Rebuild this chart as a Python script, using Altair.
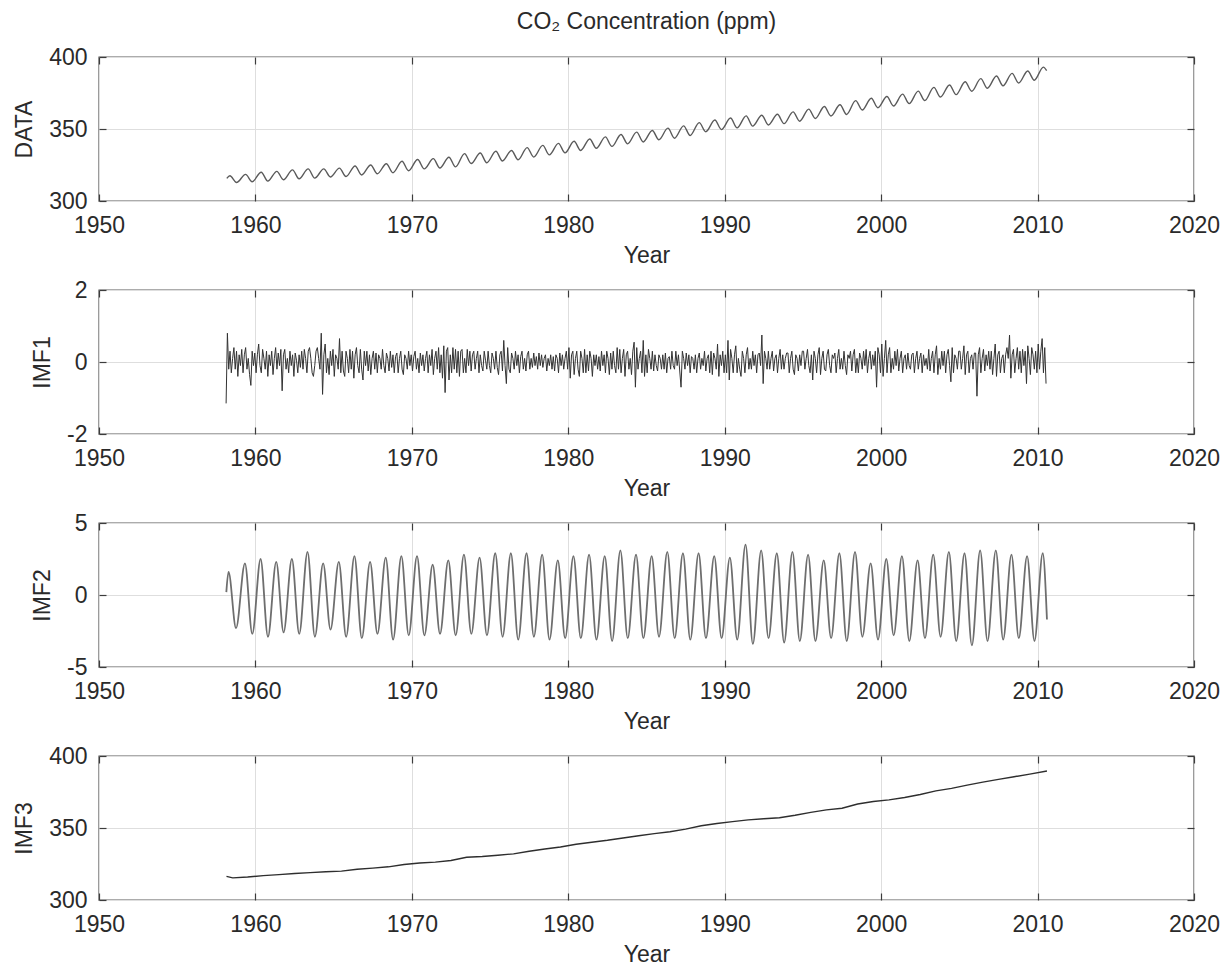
import altair as alt
import pandas as pd

FONT = "Liberation Sans"
TXT = "#2a2a2a"
GRID = "#dedede"
FRAME = "#5a5a5a"
TICKC = "#3c3c3c"

X_TICKS = [1950, 1960, 1970, 1980, 1990, 2000, 2010, 2020]

# ---------------- DATA (seasonal peaks ~May, troughs ~Oct) ----------------
data_start = [1958.17, 315.7]
data_peak_years = list(range(1958, 2011))
data_peak = [317.5, 318.5, 320.0, 320.6, 321.6, 322.3, 322.3, 322.8, 324.3, 325.0, 325.9, 327.6,
             328.8, 329.4, 330.4, 332.9, 333.3, 334.5, 335.1, 337.1, 338.6, 340.0,
             341.5, 343.1, 344.5, 346.2, 347.8, 349.0, 350.6, 352.2, 354.4, 356.2,
             357.6, 359.1, 359.6, 360.2, 361.9, 363.8, 365.6, 366.8, 369.7, 371.4,
             372.6, 374.2, 376.3, 378.9, 380.6, 382.8, 385.0, 386.8, 388.6, 390.3, 393.0]
data_trough_years = list(range(1958, 2010))
data_trough = [312.8, 313.4, 313.8, 314.8, 315.4, 315.9, 316.7, 317.0, 318.1, 318.9, 319.6, 321.0,
               322.3, 322.9, 323.7, 326.0, 326.6, 327.8, 328.6, 330.5, 332.0, 333.4,
               335.1, 336.6, 337.9, 339.7, 341.0, 342.5, 343.6, 345.5, 348.1, 349.6,
               350.8, 352.0, 352.8, 353.7, 355.4, 357.3, 359.0, 360.1, 363.2, 364.8,
               366.0, 367.6, 369.7, 372.2, 373.9, 376.2, 378.3, 380.0, 381.9, 383.9]
data_end = [2010.58, 390.5]

# ---------------- IMF1 (high-frequency residual, monthly readings) ----------------
imf1 = {
    1958: [-1.15, 0.8, -0.2, 0.3, -0.3, 0.1, 0.4, -0.2, 0.3, -0.4, 0.2],
    1959: [-0.1, 0.35, -0.3, 0.2, 0.4, -0.2, 0.1, -0.35, -0.65, 0.3, -0.1, 0.25],
    1960: [-0.3, 0.2, 0.5, -0.1, -0.3, 0.35, 0.1, -0.2, 0.3, -0.4, 0.2, -0.1],
    1961: [0.3, -0.35, 0.1, 0.4, -0.2, 0.25, -0.1, 0.35, -0.8, 0.2, 0.35, -0.2],
    1962: [0.1, -0.3, 0.3, -0.1, 0.2, -0.4, 0.25, 0.05, -0.3, 0.2, -0.15, 0.3],
    1963: [-0.2, 0.35, 0.1, -0.3, 0.3, 0.4, 0.1, -0.3, -0.4, -0.1, 0.3, 0.4],
    1964: [0.1, -0.2, 0.8, -0.9, 0.2, 0.5, -0.3, 0.1, -0.35, 0.3, -0.1, 0.35],
    1965: [-0.4, 0.2, 0.1, -0.2, 0.65, -0.3, 0.3, -0.25, -0.4, 0.3, 0.1, -0.3],
    1966: [0.35, -0.2, 0.3, -0.45, 0.2, 0.4, -0.1, -0.3, 0.35, -0.2, -0.5, 0.3],
    1967: [-0.1, 0.3, -0.25, 0.2, -0.35, 0.1, 0.3, -0.2, 0.25, -0.3, 0.2, 0.1],
    1968: [-0.2, 0.35, -0.1, -0.3, 0.25, 0.1, -0.25, 0.3, -0.15, 0.2, -0.3, 0.15],
    1969: [0.25, -0.3, 0.1, 0.3, -0.2, -0.35, 0.2, 0.1, -0.2, 0.3, -0.1, 0.2],
    1970: [-0.25, 0.15, 0.3, -0.2, 0.1, -0.3, 0.25, -0.1, 0.2, -0.25, 0.1, 0.3],
    1971: [-0.3, 0.2, -0.1, 0.35, -0.35, 0.1, 0.3, -0.2, 0.4, -0.3, 0.2, -0.45],
    1972: [0.45, -0.85, 0.3, 0.4, -0.5, 0.2, -0.3, 0.4, -0.2, 0.35, -0.3, 0.3],
    1973: [-0.4, 0.3, 0.35, -0.3, 0.1, -0.3, 0.35, -0.1, 0.3, -0.25, 0.2, 0.3],
    1974: [-0.2, 0.1, 0.3, -0.3, 0.2, -0.1, -0.25, 0.3, 0.05, -0.2, 0.3, -0.1],
    1975: [-0.3, 0.25, 0.1, -0.2, 0.3, -0.15, -0.35, 0.2, 0.3, -0.25, 0.6, -0.1],
    1976: [-0.6, 0.4, -0.2, -0.3, 0.25, 0.1, -0.2, 0.3, -0.1, 0.2, -0.3, 0.15],
    1977: [0.3, -0.2, 0.1, -0.25, 0.2, 0.3, -0.2, 0.1, -0.15, 0.25, -0.1, 0.15],
    1978: [-0.2, 0.25, -0.1, 0.2, -0.15, 0.1, 0.2, -0.25, 0.1, -0.1, 0.2, -0.2],
    1979: [0.15, -0.25, 0.2, 0.1, -0.3, 0.25, -0.1, 0.2, -0.2, 0.1, 0.3, -0.2],
    1980: [0.4, -0.45, 0.2, 0.3, -0.35, 0.1, 0.3, -0.2, -0.4, 0.3, 0.1, -0.3],
    1981: [0.35, -0.3, 0.2, -0.25, 0.3, 0.1, -0.4, 0.2, -0.1, 0.2, -0.2, 0.15],
    1982: [-0.25, 0.3, -0.1, 0.2, -0.3, 0.3, 0.1, -0.35, 0.25, -0.2, 0.3, -0.1],
    1983: [-0.3, 0.4, -0.2, 0.35, -0.3, 0.1, 0.35, -0.4, 0.2, 0.3, -0.2, 0.1],
    1984: [-0.35, 0.3, 0.55, -0.7, 0.4, -0.2, 0.1, 0.3, -0.3, 0.6, -0.4, 0.2],
    1985: [-0.3, 0.35, 0.1, -0.2, 0.3, -0.25, 0.2, -0.1, -0.25, 0.2, 0.1, -0.2],
    1986: [0.2, -0.2, 0.25, -0.3, 0.1, 0.15, -0.2, 0.3, -0.1, -0.2, 0.3, -0.1],
    1987: [0.2, -0.25, -0.7, 0.3, 0.1, -0.2, 0.25, -0.1, 0.2, -0.3, 0.15, 0.1],
    1988: [-0.2, 0.2, -0.3, 0.1, 0.25, -0.2, 0.1, -0.1, 0.3, -0.25, 0.1, 0.2],
    1989: [-0.3, 0.3, -0.35, 0.25, 0.1, -0.2, 0.5, -0.4, 0.2, -0.1, 0.3, -0.3],
    1990: [0.2, -0.3, 0.6, -0.5, 0.35, 0.1, -0.3, 0.2, 0.45, -0.3, 0.1, -0.2],
    1991: [-0.4, 0.3, 0.1, -0.3, 0.2, 0.4, -0.2, 0.1, -0.2, 0.3, -0.1, 0.2],
    1992: [-0.3, 0.2, 0.25, -0.1, 0.75, -0.6, 0.3, 0.1, -0.2, 0.3, -0.2, 0.1],
    1993: [0.3, -0.25, 0.1, 0.2, -0.3, 0.1, 0.35, -0.2, 0.2, -0.2, 0.1, 0.25],
    1994: [0.25, -0.3, 0.1, 0.3, -0.2, -0.35, 0.2, 0.1, -0.25, 0.2, -0.1, 0.3],
    1995: [0.3, -0.2, 0.1, 0.35, -0.1, -0.3, 0.2, -0.5, 0.3, 0.1, -0.3, 0.2],
    1996: [0.4, -0.35, 0.1, 0.3, -0.2, -0.25, 0.2, 0.35, -0.1, -0.3, 0.2, 0.1],
    1997: [0.25, -0.3, 0.1, 0.35, -0.2, 0.1, -0.2, 0.3, -0.1, -0.35, 0.2, 0.1],
    1998: [0.3, -0.25, 0.2, 0.35, -0.3, 0.1, -0.3, 0.25, 0.1, -0.2, 0.3, -0.1],
    1999: [0.35, -0.3, 0.1, 0.3, -0.2, 0.2, -0.1, 0.3, -0.7, 0.4, 0.2, -0.3],
    2000: [0.5, -0.4, 0.1, 0.6, -0.3, 0.2, 0.4, -0.3, 0.1, -0.2, 0.3, -0.1],
    2001: [0.35, -0.25, 0.1, 0.3, -0.3, 0.1, 0.2, -0.2, 0.25, -0.1, -0.2, 0.2],
    2002: [0.25, -0.3, 0.1, 0.3, -0.2, 0.1, 0.25, -0.3, 0.2, -0.1, 0.1, -0.2],
    2003: [0.35, -0.25, 0.1, 0.3, -0.3, 0.2, 0.45, -0.35, 0.1, -0.2, 0.3, -0.1],
    2004: [0.3, -0.3, 0.2, 0.35, -0.1, -0.55, 0.4, -0.3, 0.2, 0.1, -0.2, 0.3],
    2005: [0.3, -0.2, 0.1, 0.45, -0.35, 0.2, 0.3, -0.3, 0.1, 0.2, -0.2, 0.25],
    2006: [0.25, -0.95, 0.2, 0.4, -0.3, 0.1, 0.35, -0.25, 0.2, -0.1, 0.3, -0.2],
    2007: [0.3, -0.35, 0.1, 0.5, -0.4, 0.2, 0.3, -0.3, 0.1, 0.2, -0.3, 0.2],
    2008: [0.4, 0.1, 0.75, -0.45, 0.2, 0.35, -0.3, 0.1, 0.4, -0.2, 0.3, -0.3],
    2009: [0.35, -0.1, 0.3, -0.6, 0.45, 0.1, -0.35, 0.4, 0.2, -0.2, 0.3, -0.3],
    2010: [0.5, -0.2, 0.3, 0.65, -0.3, 0.4, -0.6],
}
imf1_first_month = {1958: 1}

# ---------------- IMF2 (annual cycle: peaks and troughs) ----------------
imf2_start = [[1958.14, 0.2], [1958.28, 1.6], [1958.76, -2.3]]
imf2_peak_years = list(range(1959, 2011))
imf2_peak = [2.2, 2.5, 2.3, 2.5, 3.0, 2.2, 2.3, 2.7, 2.3, 2.6, 2.7,
             2.7, 2.1, 2.4, 2.8, 2.6, 2.9, 2.9, 2.9, 2.8, 2.4,
             2.7, 2.8, 2.7, 3.1, 2.8, 2.7, 3.0, 2.9, 2.9, 2.7,
             2.6, 3.5, 3.1, 2.9, 3.0, 2.8, 2.4, 2.9, 3.0, 2.2,
             2.5, 2.7, 2.4, 2.8, 3.0, 2.9, 3.1, 3.1, 2.8, 2.7, 2.9]
imf2_trough_years = list(range(1959, 2010))
imf2_trough = [-2.7, -2.9, -2.6, -2.7, -2.9, -2.4, -2.9, -3.0, -2.7, -3.1, -2.8,
               -2.8, -2.7, -2.8, -2.7, -2.8, -2.9, -3.1, -2.9, -3.1, -3.0,
               -3.0, -3.1, -3.2, -3.0, -3.0, -2.9, -3.0, -3.1, -3.0, -3.0,
               -3.1, -3.4, -3.0, -3.3, -3.2, -3.2, -3.0, -3.2, -2.9, -3.1,
               -2.8, -3.2, -3.0, -2.9, -3.2, -3.5, -3.2, -3.1, -3.0, -3.2]
imf2_end = [2010.6, -1.7]

# ---------------- IMF3 (trend) ----------------
imf3_start = [[1958.15, 316.4], [1958.55, 315.4]]
imf3_years = list(range(1959, 2010))
imf3_vals = [315.97, 316.91, 317.64, 318.45, 318.99, 319.62, 320.04, 321.38, 322.16, 323.04, 324.62,
             325.68, 326.32, 327.45, 329.68, 330.18, 331.11, 332.04, 333.83, 335.40, 336.84,
             338.75, 340.11, 341.45, 343.05, 344.65, 346.12, 347.42, 349.19, 351.57, 353.12,
             354.39, 355.61, 356.45, 357.10, 358.83, 360.82, 362.61, 363.73, 366.70, 368.38,
             369.55, 371.14, 373.28, 375.80, 377.52, 379.80, 381.90, 383.79, 385.60, 387.43]
imf3_end = [2010.6, 389.6]

# ---------------- tables ----------------
rows = [tuple(data_start)]
for i, yr in enumerate(data_peak_years):
    rows.append((yr + 0.37, data_peak[i]))
    if yr in data_trough_years:
        rows.append((yr + 0.79, data_trough[data_trough_years.index(yr)]))
rows.append(tuple(data_end))
df_data = pd.DataFrame(rows, columns=["year", "value"])

rows = []
for yr, vals in imf1.items():
    m0 = imf1_first_month.get(yr, 0)
    for k, v in enumerate(vals):
        rows.append((yr + (m0 + k + 0.5) / 12.0, v))
df_imf1 = pd.DataFrame(rows, columns=["year", "value"])

rows = [tuple(p) for p in imf2_start]
for i, yr in enumerate(imf2_peak_years):
    rows.append((yr + 0.33, imf2_peak[i]))
    if yr in imf2_trough_years:
        rows.append((yr + 0.80, imf2_trough[imf2_trough_years.index(yr)]))
rows.append(tuple(imf2_end))
df_imf2 = pd.DataFrame(rows, columns=["year", "value"])

rows = [tuple(p) for p in imf3_start]
for i, yr in enumerate(imf3_years):
    rows.append((yr + 0.5, imf3_vals[i]))
rows.append(tuple(imf3_end))
df_imf3 = pd.DataFrame(rows, columns=["year", "value"])

W, H = 1095, 144
FS = 23


def panel(df, ytitle, ydom, yticks, color, sw, interp, title=None):
    xs = alt.Scale(domain=[1950, 2020], nice=False, zero=False)
    ys = alt.Scale(domain=ydom, nice=False, zero=False)
    common = dict(labelFont=FONT, titleFont=FONT, labelFontSize=FS, titleFontSize=FS,
                  labelColor=TXT, titleColor=TXT, titleFontWeight="normal",
                  domain=False, ticks=True, tickSize=7, tickColor=TICKC, tickWidth=1.2,
                  offset=-7)
    xb = alt.Axis(orient="bottom", values=X_TICKS, format="d", title="Year", grid=True,
                  gridColor=GRID, gridWidth=1, labelPadding=13, titlePadding=7,
                  labelFlush=False, **common)
    yl = alt.Axis(orient="left", values=yticks, labelExpr="'' + datum.value", title=ytitle,
                  grid=True, gridColor=GRID, gridWidth=1, labelPadding=12, titlePadding=12,
                  **common)
    xt = alt.Axis(orient="top", values=X_TICKS, labels=False, title=None, grid=False, **common)
    yr = alt.Axis(orient="right", values=yticks, labels=False, title=None, grid=False, **common)
    line = alt.Chart(df).mark_line(color=color, strokeWidth=sw, interpolate=interp).encode(
        x=alt.X("year:Q", scale=xs, axis=xb),
        y=alt.Y("value:Q", scale=ys, axis=yl),
    )
    ghost = alt.Chart(df).mark_line(strokeOpacity=0).encode(
        x=alt.X("year:Q", scale=xs, axis=xt),
        y=alt.Y("value:Q", scale=ys, axis=yr),
    )
    ch = alt.layer(line, ghost).resolve_axis(x="independent", y="independent")
    props = dict(width=W, height=H)
    if title is not None:
        props["title"] = alt.TitleParams(title, font=FONT, fontSize=FS, fontWeight="normal",
                                         color=TXT, anchor="middle", frame="group", offset=12)
    return ch.properties(**props)


p1 = panel(df_data, "DATA", [300, 400], [300, 350, 400], "#5a5a5a", 1.4, "monotone",
           title="CO₂ Concentration (ppm)")
p2 = panel(df_imf1, "IMF1", [-2, 2], [-2, 0, 2], "#333333", 1.0, "linear")
p3 = panel(df_imf2, "IMF2", [-5, 5], [-5, 0, 5], "#6e6e6e", 1.8, "monotone")
p4 = panel(df_imf3, "IMF3", [300, 400], [300, 350, 400], "#2e2e2e", 1.4, "linear")

chart = alt.vconcat(p1, p2, p3, p4, spacing=10).properties(
    padding={"left": 4, "top": 2, "right": 0, "bottom": 0}
).configure_view(stroke=FRAME, strokeWidth=1.4)

chart.save("out.html", embed_options={"renderer": "svg", "actions": False})
